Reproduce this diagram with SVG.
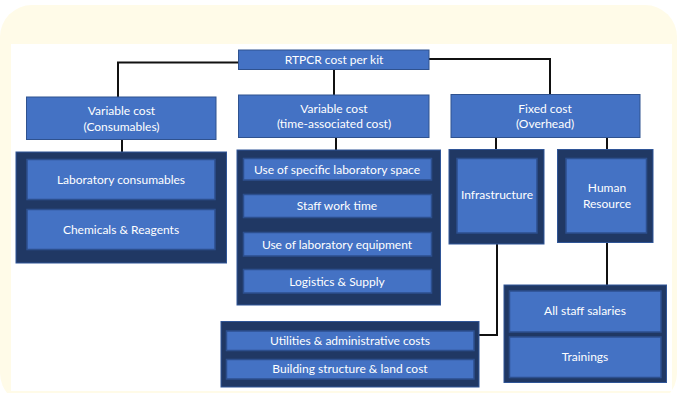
<svg xmlns="http://www.w3.org/2000/svg" width="677" height="393" viewBox="0 0 677 393">
<style>
.lvl{fill:#4472c4;stroke:#2f528f;stroke-width:1}
.cont{fill:#203864;stroke:#2f5597;stroke-width:1}
.inner{fill:#4472c4;stroke:#2c4f8e;stroke-width:1.5}
text{font-family:Lato,"Open Sans","Liberation Sans",sans-serif;font-size:12px;fill:#ffffff;text-anchor:middle}
.conn{fill:none;stroke:#111111;stroke-width:2}
</style>
<rect x="0" y="5" width="677" height="400" rx="32" fill="#fffbe8"/>
<rect x="11" y="44" width="661" height="347" fill="#ffffff"/>
<g id="connectors" class="conn">
<path d="M239 62.5H118V97"/>
<path d="M429 59H550V94.5"/>
<path d="M334 69V95"/>
<path d="M122 139V152"/>
<path d="M336 137V150"/>
<path d="M496 137V149"/>
<path d="M607 137V149"/>
<path d="M497 244V335H479"/>
<path d="M607 243V285"/>
</g>
<g id="root"><rect class="lvl" x="238.5" y="50" width="190.5" height="19.5"/><text x="334" y="64">RTPCR cost per kit</text></g>
<g id="vc-consumables"><rect class="lvl" x="26.5" y="97" width="189.5" height="42.5"/><text x="121.5" y="115">Variable cost</text><text x="121.5" y="130.5">(Consumables)</text></g>
<g id="vc-time"><rect class="lvl" x="238.5" y="95" width="190.5" height="42.5"/><text x="334" y="112.5">Variable cost</text><text x="334" y="128">(time-associated cost)</text></g>
<g id="fixed"><rect class="lvl" x="451" y="94.5" width="189" height="43"/><text x="545" y="112.5">Fixed cost</text><text x="545" y="128">(Overhead)</text></g>
<g id="consumables-group">
<rect class="cont" x="16" y="152" width="210.5" height="111"/>
<rect class="inner" x="27" y="159.5" width="188" height="40"/><text x="121" y="183.5">Laboratory consumables</text>
<rect class="inner" x="27" y="209.5" width="188" height="40"/><text x="121" y="233.5">Chemicals &amp; Reagents</text>
</g>
<g id="time-group">
<rect class="cont" x="237" y="150" width="203.5" height="155"/>
<rect class="inner" x="243.5" y="158.5" width="188" height="21.5"/><text x="337" y="174">Use of specific laboratory space</text>
<rect class="inner" x="243.5" y="194.5" width="188" height="23"/><text x="337" y="210">Staff work time</text>
<rect class="inner" x="243.5" y="232.5" width="188" height="23.5"/><text x="337" y="248.5">Use of laboratory equipment</text>
<rect class="inner" x="243.5" y="269.5" width="188" height="23.5"/><text x="337" y="286">Logistics &amp; Supply</text>
</g>
<g id="infrastructure">
<rect class="cont" x="449" y="149.5" width="95" height="94.5"/>
<rect class="inner" x="457" y="158.5" width="80" height="74.5"/><text x="497" y="199">Infrastructure</text>
</g>
<g id="human-resource">
<rect class="cont" x="557.5" y="149.5" width="95.5" height="93"/>
<rect class="inner" x="566" y="158.5" width="80.5" height="74.5"/><text x="607" y="192">Human</text><text x="607" y="207.5">Resource</text>
</g>
<g id="infrastructure-costs">
<rect class="cont" x="221" y="321.5" width="258" height="65.5"/>
<rect class="inner" x="226.5" y="331" width="247.5" height="19.5"/><text x="350" y="345">Utilities &amp; administrative costs</text>
<rect class="inner" x="226.5" y="359.5" width="247.5" height="19.5"/><text x="350" y="373">Building structure &amp; land cost</text>
</g>
<g id="hr-costs">
<rect class="cont" x="504" y="285" width="162.5" height="97.5"/>
<rect class="inner" x="509.5" y="291" width="151.5" height="41"/><text x="585" y="315">All staff salaries</text>
<rect class="inner" x="509.5" y="337" width="151.5" height="40.5"/><text x="585" y="361">Trainings</text>
</g>
</svg>
